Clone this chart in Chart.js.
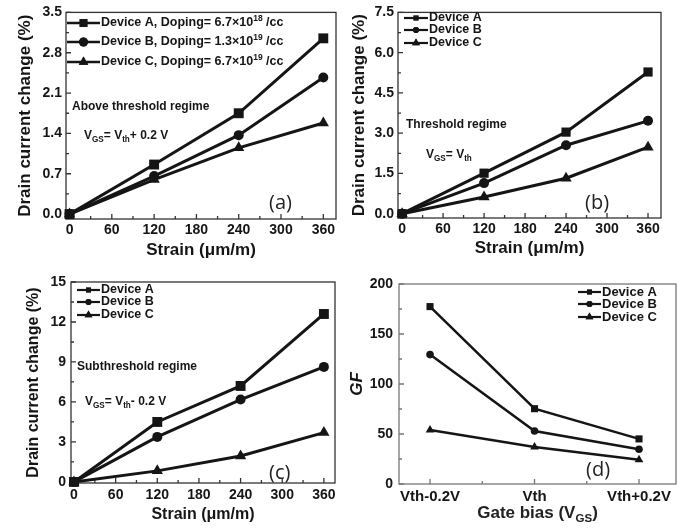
<!DOCTYPE html>
<html lang="en">
<head>
<meta charset="UTF-8">
<title>Drain current change vs strain</title>
<script src="https://cdn.jsdelivr.net/npm/chart.js"></script>
<style>
  html, body { margin: 0; padding: 0; background: #fff; }
  #wrap { position: relative; width: 686px; height: 529px; }
  .panel { position: absolute; width: 343px; height: 265px; }
</style>
</head>
<body>
<div id="wrap">
  <div class="panel" style="left:0;top:0"><canvas id="chartA" width="343" height="265"></canvas></div>
  <div class="panel" style="left:343px;top:0"><canvas id="chartB" width="343" height="265"></canvas></div>
  <div class="panel" style="left:0;top:265px"><canvas id="chartC" width="343" height="264"></canvas></div>
  <div class="panel" style="left:343px;top:265px"><canvas id="chartD" width="343" height="264"></canvas></div>
</div>
<script>
const strain = [0, 120, 240, 360];
const strainTicks = [0, 60, 120, 180, 240, 300, 360];

// (a) above threshold, VGS = Vth + 0.2 V
const aboveA = [0, 0.86, 1.75, 3.05];
const aboveB = [0, 0.66, 1.37, 2.37];
const aboveC = [0, 0.60, 1.15, 1.58];
const aboveTicks = [0, 0.7, 1.4, 2.1, 2.8, 3.5];

// (b) threshold, VGS = Vth
const threshA = [0, 1.51, 3.04, 5.28];
const threshB = [0, 1.14, 2.55, 3.46];
const threshC = [0, 0.62, 1.32, 2.48];
const threshTicks = [0, 1.5, 3.0, 4.5, 6.0, 7.5];

// (c) subthreshold, VGS = Vth - 0.2 V
const subA = [0, 4.5, 7.2, 12.6];
const subB = [0, 3.38, 6.18, 8.63];
const subC = [0, 0.83, 1.95, 3.7];
const subTicks = [0, 3, 6, 9, 12, 15];

// (d) gauge factor vs gate bias
const gateBias = ['Vth-0.2V', 'Vth', 'Vth+0.2V'];
const gfA = [177.4, 75.3, 45.1];
const gfB = [129.4, 53, 34.8];
const gfC = [54, 37.1, 24.2];
const gfTicks = [0, 50, 100, 150, 200];

const FONT = '"Liberation Sans", Arial, Helvetica, sans-serif';
const INK = '#151515';
const styles = ['rect', 'circle', 'triangle'];

// draws text pieces with sub/superscripts, returns width
function drawRich(ctx, parts, x, y, size, measureOnly) {
  let cx = x;
  ctx.textBaseline = 'middle';
  ctx.textAlign = 'left';
  parts.forEach(([t, m]) => {
    const s = m ? size * 0.68 : size;
    ctx.font = `bold ${s}px ${FONT}`;
    const dy = m === 'sub' ? size * 0.32 : m === 'sup' ? -size * 0.38 : 0;
    if (!measureOnly) ctx.fillText(t, cx, y + dy);
    cx += ctx.measureText(t).width;
  });
  return cx - x;
}

const framePlugin = {
  id: 'frame',
  beforeDatasetsDraw(chart, args, o) {
    const { ctx, chartArea: a, scales: { x, y } } = chart;
    ctx.save();
    ctx.strokeStyle = o.axisColor;
    ctx.lineWidth = 1.3;
    ctx.strokeRect(a.left, a.top, a.right - a.left, a.bottom - a.top);
    ctx.beginPath();
    const xt = o.xTicks, yt = o.yTicks;
    xt.forEach((v, i) => {
      const px = x.getPixelForValue(v);
      ctx.moveTo(px, a.bottom); ctx.lineTo(px, a.bottom - 5);
      if (i < xt.length - 1) {
        const mx = x.getPixelForValue((v + xt[i + 1]) / 2);
        ctx.moveTo(mx, a.bottom); ctx.lineTo(mx, a.bottom - 3);
      }
    });
    yt.forEach((v, i) => {
      const py = y.getPixelForValue(v);
      ctx.moveTo(a.left, py); ctx.lineTo(a.left + 5, py);
      if (i < yt.length - 1) {
        const my = y.getPixelForValue((v + yt[i + 1]) / 2);
        ctx.moveTo(a.left, my); ctx.lineTo(a.left + 3, my);
      }
    });
    ctx.stroke();
    ctx.restore();
  },
  afterDraw(chart, args, o) {
    const { ctx } = chart;
    ctx.save();
    ctx.fillStyle = INK;
    // legend
    const lg = o.legend;
    lg.rows.forEach((parts, i) => {
      const yy = lg.y[i];
      ctx.strokeStyle = INK;
      ctx.lineWidth = lg.lineWidth;
      ctx.beginPath();
      ctx.moveTo(lg.x1, yy); ctx.lineTo(lg.x2, yy);
      ctx.stroke();
      ctx.fillStyle = INK;
      Chart.helpers.drawPoint(ctx, { pointStyle: styles[i], radius: lg.radius[i], rotation: 0, borderWidth: 0 }, (lg.x1 + lg.x2) / 2, yy);
      ctx.fill();
      drawRich(ctx, parts, lg.x2 + 1, yy, lg.size);
    });
    // annotations
    (o.notes || []).forEach(n => drawRich(ctx, n.parts, n.x, n.y, n.size));
    // panel tag
    ctx.font = `20px "Open Sans", sans-serif`;
    ctx.fillStyle = '#222';
    ctx.textBaseline = 'middle';
    ctx.fillText(o.tag.text, o.tag.x, o.tag.y);
    // custom x title with subscript
    if (o.xTitle) {
      const w = drawRich(ctx, o.xTitle.parts, 0, 0, o.xTitle.size, true);
      const cx = (chart.chartArea.left + chart.chartArea.right) / 2;
      drawRich(ctx, o.xTitle.parts, cx - w / 2, o.xTitle.y, o.xTitle.size);
    }
    ctx.restore();
  }
};

function makePanel(id, p) {
  const datasets = p.series.map((vals, i) => ({
    data: vals.map((v, j) => ({ x: p.xValues[j], y: v })),
    borderColor: INK,
    backgroundColor: INK,
    borderWidth: p.lineWidth,
    pointStyle: styles[i],
    pointRadius: p.radius[i],
    pointBorderWidth: 0,
    pointBackgroundColor: INK,
    tension: 0,
    clip: false
  }));
  return new Chart(document.getElementById(id), {
    type: 'line',
    data: { datasets },
    plugins: [framePlugin],
    options: {
      responsive: false,
      animation: false,
      events: [],
      layout: { padding: p.padding },
      plugins: {
        legend: { display: false },
        tooltip: { enabled: false },
        frame: {
          axisColor: p.axisColor, xTicks: p.xTicks, yTicks: p.yTicks,
          legend: p.legend, notes: p.notes, tag: p.tag, xTitle: p.xTitleRich
        }
      },
      scales: {
        x: {
          type: 'linear', min: p.xMin, max: p.xMax,
          afterBuildTicks: s => { s.ticks = p.xTicks.map(v => ({ value: v })); },
          afterFit: s => { s.height = p.xHeight; },
          grid: { display: false, drawTicks: false, tickLength: 0 },
          border: { display: false },
          ticks: {
            padding: p.xPad, color: INK, autoSkip: false, maxRotation: 0,
            font: { family: FONT, size: p.xTickSize, weight: 'bold' },
            callback: p.xLabel
          },
          title: {
            display: !!p.xTitle, text: p.xTitle, color: INK,
            font: { family: FONT, size: p.titleSize, weight: 'bold' },
            padding: { top: 0, bottom: p.xTitlePad }
          }
        },
        y: {
          type: 'linear', min: p.yMin, max: p.yMax,
          afterBuildTicks: s => { s.ticks = p.yTicks.map(v => ({ value: v })); },
          afterFit: s => { s.width = p.yWidth; },
          grid: { display: false, drawTicks: false, tickLength: 0 },
          border: { display: false },
          ticks: {
            padding: p.yPad, color: INK, autoSkip: false,
            font: { family: FONT, size: 14, weight: 'bold' },
            callback: p.yLabel
          },
          title: {
            display: true, text: p.yTitle, color: INK,
            font: { family: FONT, size: p.titleSize, weight: 'bold', style: p.yTitleStyle || 'normal' },
            padding: { top: p.yTitlePad, bottom: 0 }
          }
        }
      }
    }
  });
}

const devLegend = [[['Device A']], [['Device B']], [['Device C']]];
const fmt1 = v => v.toFixed(1);
const fmt0 = v => String(v);

makePanel('chartA', {
  series: [aboveA, aboveB, aboveC], xValues: strain,
  xTicks: strainTicks, xMin: -5, xMax: 378, xLabel: fmt0,
  yTicks: aboveTicks, yMin: -0.085, yMax: 3.5, yLabel: fmt1,
  padding: { left: 0, right: 6, top: 10, bottom: 0 }, yWidth: 66, xHeight: 46,
  xPad: 3, yPad: 4, xTickSize: 14, titleSize: 17, xTitlePad: 4, yTitlePad: 15,
  xTitle: 'Strain (\u03bcm/m)', yTitle: 'Drain current change (%)',
  axisColor: '#333', lineWidth: 3, radius: [7, 5, 6.5],
  legend: {
    x1: 67, x2: 100, y: [23, 42, 62], size: 12.5, lineWidth: 2.5, radius: [5.5, 4.5, 5.5],
    rows: [
      [['Device A, Doping= 6.7\u00d710'], ['18', 'sup'], [' /cc']],
      [['Device B, Doping= 1.3\u00d710'], ['19', 'sup'], [' /cc']],
      [['Device C, Doping= 6.7\u00d710'], ['19', 'sup'], [' /cc']]
    ]
  },
  notes: [
    { parts: [['Above threshold regime']], x: 72, y: 107, size: 12 },
    { parts: [['V'], ['GS', 'sub'], ['= V'], ['th', 'sub'], ['+ 0.2 V']], x: 84, y: 136, size: 12 }
  ],
  tag: { text: '(a)', x: 269, y: 203 }
});

makePanel('chartB', {
  series: [threshA, threshB, threshC], xValues: strain,
  xTicks: strainTicks, xMin: -6, xMax: 379, xLabel: fmt0,
  yTicks: threshTicks, yMin: -0.16, yMax: 7.5, yLabel: fmt1,
  padding: { left: 0, right: 25, top: 10, bottom: 0 }, yWidth: 55, xHeight: 47,
  xPad: 3, yPad: 4, xTickSize: 14, titleSize: 17, xTitlePad: 6, yTitlePad: 6,
  xTitle: 'Strain (\u03bcm/m)', yTitle: 'Drain current change (%)',
  axisColor: '#333', lineWidth: 3, radius: [6.5, 5, 6.5],
  legend: { x1: 61, x2: 85, y: [18, 30, 43], size: 12.5, lineWidth: 2.2, radius: [3.5, 3, 4.5], rows: devLegend },
  notes: [
    { parts: [['Threshold regime']], x: 63, y: 125, size: 12 },
    { parts: [['V'], ['GS', 'sub'], ['= V'], ['th', 'sub']], x: 83, y: 155, size: 12 }
  ],
  tag: { text: '(b)', x: 242, y: 203 }
});

makePanel('chartC', {
  series: [subA, subB, subC], xValues: strain,
  xTicks: strainTicks, xMin: -4.3, xMax: 376, xLabel: fmt0,
  yTicks: subTicks, yMin: -0.08, yMax: 15, yLabel: fmt0,
  padding: { left: 0, right: 8, top: 17, bottom: 0 }, yWidth: 71, xHeight: 46,
  xPad: 4, yPad: 5, xTickSize: 14, titleSize: 16, xTitlePad: 5, yTitlePad: 24,
  xTitle: 'Strain (\u03bcm/m)', yTitle: 'Drain current change (%)',
  axisColor: '#333', lineWidth: 3, radius: [7, 5, 6.5],
  legend: { x1: 77, x2: 100, y: [25, 37, 50], size: 12.5, lineWidth: 2.2, radius: [3.5, 3, 4.5], rows: devLegend },
  notes: [
    { parts: [['Subthreshold regime']], x: 77, y: 102, size: 12 },
    { parts: [['V'], ['GS', 'sub'], ['= V'], ['th', 'sub'], ['- 0.2 V']], x: 85, y: 137, size: 12 }
  ],
  tag: { text: '(c)', x: 269, y: 208 }
});

makePanel('chartD', {
  series: [gfA, gfB, gfC], xValues: [0, 1, 2],
  xTicks: [0, 1, 2], xMin: -0.297, xMax: 2.354, xLabel: v => gateBias[v],
  yTicks: gfTicks, yMin: 0, yMax: 200, yLabel: fmt0,
  padding: { left: 0, right: 10, top: 19, bottom: 0 }, yWidth: 56, xHeight: 45,
  xPad: 4, yPad: 6, xTickSize: 15, titleSize: 17, xTitlePad: 5, yTitlePad: 4,
  xTitle: '', yTitle: 'GF', yTitleStyle: 'italic',
  xTitleRich: { parts: [['Gate bias (V'], ['GS', 'sub'], [')']], y: 248, size: 17 },
  axisColor: '#777', lineWidth: 2.5, radius: [5, 3.8, 5],
  legend: { x1: 235, x2: 258, y: [27, 39, 52], size: 13, lineWidth: 2.2, radius: [3.5, 3, 4.5], rows: devLegend },
  notes: [],
  tag: { text: '(d)', x: 243, y: 205 }
});
</script>
</body>
</html>
